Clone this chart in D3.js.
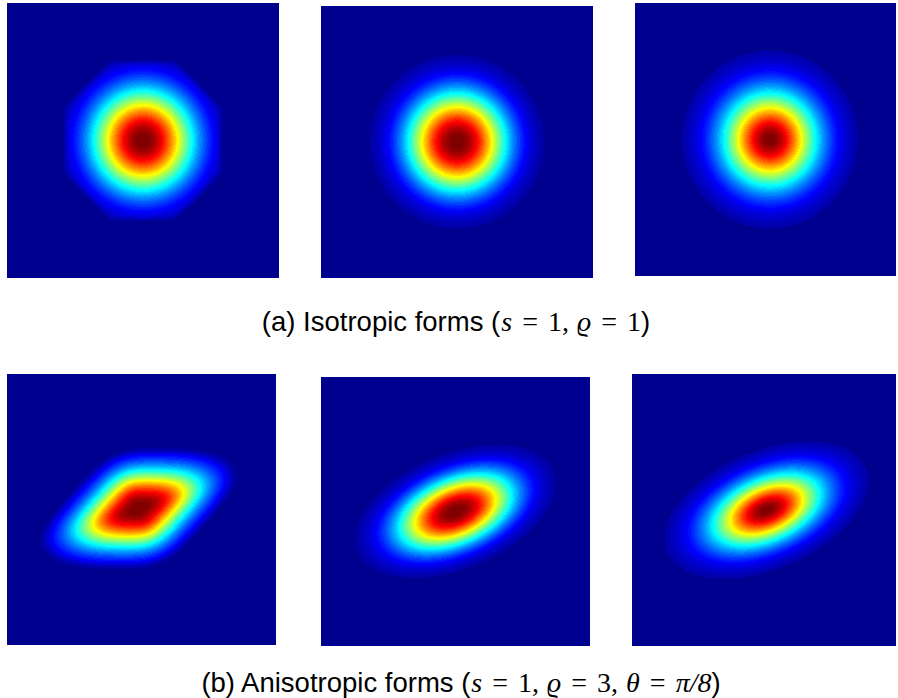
<!DOCTYPE html>
<html><head><meta charset="utf-8">
<script src="https://cdn.jsdelivr.net/npm/d3@7"></script>
<style>
body{margin:0;background:#fff}
svg{display:block}
text{white-space:pre}
</style>
</head><body>
<div id="chart"></div>
<script>
// ---------------- data ----------------
const rowNames = ["Isotropic forms", "Anisotropic forms"];
const captionPrefix = ["(a) Isotropic forms (", "(b) Anisotropic forms ("];
const captionSymbols = [["s", "ϱ"], ["s", "ϱ", "θ"]];
const captionValues = [["1", "1"], ["1", "3", "π/8"]];

// six forms, row-major (top row isotropic, bottom row anisotropic)
const valueGauge   = ["circle", "ellipse", "ellipse", "polygon", "ellipse", "ellipse"];
const windowGauge  = ["octagon", "ellipse", "ellipse", "polygon", "ellipse", "ellipse"];
const profileScale = [1.45, 1.43, 1.36, 1.14, 1.43, 1.36];   // a in exp(-(d/a)^p)
const profilePower = [2.1, 2.2, 1.9, 2.3, 2.2, 1.9];
const windowStart  = [2.15, 2.57, 2.6, 1.54, 2.57, 2.6];
const windowEnd    = [2.45, 2.57, 2.6, 1.95, 2.57, 2.6];
const majorScale   = [1, 1, 1, 1, 1.23, 1.23];
const minorScale   = [1, 1, 1, 1, 0.667, 0.667];
const tiltDeg      = [0, 0, 0, 0, 22.5, 22.5];
const centerShiftX = [0, 0, 0, -0.09, 0, 0];
const centerShiftY = [0, 0, 0, 0.03, 0, 0];
const octagonNormalsDeg = [0, 45, 90, 135];
const octagonOffsets    = [1, 1, 1, 1];
const rhombNormalsDeg   = [90, -42.4, 36];
const rhombOffsets      = [1, 1, 1.75];
const domainExtent = [-4, 4];

// ---------------- layout ----------------
const W = 898, H = 698;
const boxes = [
  {x: 7,   y: 3,   w: 272, h: 275},
  {x: 321, y: 6,   w: 272, h: 272},
  {x: 635, y: 3,   w: 270, h: 273},
  {x: 7,   y: 374, w: 269, h: 271},
  {x: 321, y: 377, w: 269, h: 269},
  {x: 632, y: 374, w: 269, h: 272}
];

// MATLAB jet(64)
const clamp01 = t => Math.max(0, Math.min(1, t));
const jet64 = d3.range(64).map(i => {
  const x = (i + 1) / 64;
  return d3.rgb(255 * clamp01(1.5 - Math.abs(4 * x - 3)),
                255 * clamp01(1.5 - Math.abs(4 * x - 2)),
                255 * clamp01(1.5 - Math.abs(4 * x - 1)));
});
const color = d3.scaleQuantize().domain([0, 1]).range(jet64);

function polyGauge(x, y, normals, offsets, q) {
  let s = 0, m = 0;
  for (let i = 0; i < normals.length; i++) {
    const t = normals[i] * Math.PI / 180;
    const a = Math.abs(x * Math.cos(t) + y * Math.sin(t)) / offsets[i];
    s += Math.pow(a, q); m = Math.max(m, a);
  }
  return q === Infinity ? m : Math.pow(s, 1 / q);
}
function gauge(kind, k, x, y) {
  if (kind === "circle") return Math.hypot(x, y);
  if (kind === "octagon") return polyGauge(x, y, octagonNormalsDeg, octagonOffsets, Infinity);
  if (kind === "polygon") return polyGauge(x, y, rhombNormalsDeg, rhombOffsets, 6);
  const p = tiltDeg[k] * Math.PI / 180;
  const u = x * Math.cos(p) + y * Math.sin(p);
  const w = -x * Math.sin(p) + y * Math.cos(p);
  return Math.hypot(u / majorScale[k], w / minorScale[k]);
}
function fieldValue(k, X, Y) {
  const x = X - centerShiftX[k], y = Y - centerShiftY[k];
  const d = gauge(valueGauge[k], k, x, y);
  const dw = gauge(windowGauge[k], k, x, y);
  let win;
  if (dw <= windowStart[k]) win = 1;
  else if (dw >= windowEnd[k]) win = 0;
  else { const t = (dw - windowStart[k]) / (windowEnd[k] - windowStart[k]); win = 1 - t * t * (3 - 2 * t); }
  return Math.exp(-Math.pow(d / profileScale[k], profilePower[k])) * win;
}

const svg = d3.select("#chart").append("svg").attr("width", W).attr("height", H);
svg.append("defs").append("clipPath").attr("id", "pageclip")
  .append("rect").attr("x", 0).attr("y", 0).attr("width", 896).attr("height", H);
const g = svg.append("g").attr("clip-path", "url(#pageclip)");

boxes.forEach((b, k) => {
  const xs = d3.scaleLinear().domain(domainExtent).range([0, b.w]);
  const ys = d3.scaleLinear().domain([domainExtent[1], domainExtent[0]]).range([0, b.h]);
  const cv = document.createElement("canvas");
  cv.width = b.w; cv.height = b.h;
  const ctx = cv.getContext("2d");
  const img = ctx.createImageData(b.w, b.h);
  const vals = new Float32Array(b.w * b.h);
  let vmax = 0;
  for (let j = 0; j < b.h; j++) for (let i = 0; i < b.w; i++) {
    const v = fieldValue(k, xs.invert(i + 0.5), ys.invert(j + 0.5));
    vals[j * b.w + i] = v; if (v > vmax) vmax = v;
  }
  for (let n = 0; n < vals.length; n++) {
    const c = color(vals[n] / vmax);
    img.data[4 * n] = c.r; img.data[4 * n + 1] = c.g; img.data[4 * n + 2] = c.b; img.data[4 * n + 3] = 255;
  }
  ctx.putImageData(img, 0, 0);
  g.append("image").attr("x", b.x).attr("y", b.y).attr("width", b.w).attr("height", b.h)
    .attr("preserveAspectRatio", "none")
    .attr("href", cv.toDataURL());
});

// captions
const sans = "Liberation Sans, Arial, Helvetica, sans-serif";
const serif = "Liberation Serif, Times New Roman, serif";
const captionPos = [{x: 456, y: 331}, {x: 461, y: 692}];
captionPrefix.forEach((pre, r) => {
  const t = svg.append("text").attr("x", captionPos[r].x).attr("y", captionPos[r].y)
    .attr("text-anchor", "middle").attr("fill", "#000");
  t.append("tspan").attr("font-family", sans).attr("font-size", 27.5).text(pre);
  captionSymbols[r].forEach((s, i) => {
    t.append("tspan").attr("font-family", serif).attr("font-style", "italic")
      .attr("font-size", 28).attr("dx", 1).text(s);
    t.append("tspan").attr("font-family", serif).attr("font-size", 28).attr("dx", 10).text("=");
    const val = captionValues[r][i];
    t.append("tspan").attr("font-family", serif).attr("font-size", 28).attr("dx", 10)
      .attr("font-style", val === "π/8" ? "italic" : "normal").text(val);
    if (i < captionSymbols[r].length - 1)
      t.append("tspan").attr("font-family", serif).attr("font-size", 28).text(", ");
  });
  t.append("tspan").attr("font-family", sans).attr("font-size", 27.5).text(")");
});
</script>
</body></html>
